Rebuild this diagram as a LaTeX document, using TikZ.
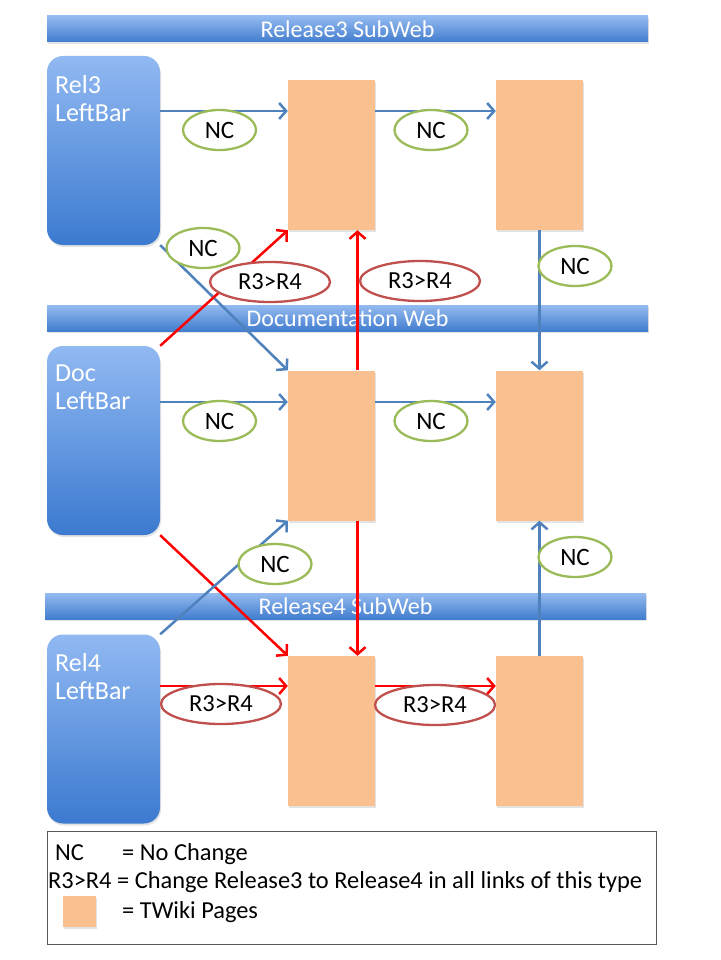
\documentclass[tikz,border=0pt]{standalone}
\usepackage{fontspec}
\setmainfont{Carlito}
\usetikzlibrary{shapes.geometric,arrows.meta,shadows}
\definecolor{bantop}{RGB}{148,186,240}
\definecolor{banbot}{RGB}{66,125,206}
\definecolor{bartop}{RGB}{145,185,242}
\definecolor{barbot}{RGB}{60,122,208}
\definecolor{pagefill}{RGB}{250,192,143}
\definecolor{linkblue}{RGB}{79,129,189}
\definecolor{ncgreen}{RGB}{155,187,89}
\definecolor{rellred}{RGB}{192,80,77}
\begin{document}
\begin{tikzpicture}[x=1pt,y=-1pt,
  txt/.style={font=\fontsize{24}{28}\selectfont},
  softshadow/.style={drop shadow={opacity=0.22, shadow xshift=1pt, shadow yshift=-2pt}},
  banner/.style={txt, rectangle, inner sep=0pt, minimum width=601pt, minimum height=26pt, top color=bantop, bottom color=banbot, text=white, softshadow},
  leftbar/.style={rectangle, rounded corners=16pt, minimum width=113pt, minimum height=189pt, inner sep=0pt, top color=bartop, bottom color=barbot, softshadow},
  bartext/.style={font=\fontsize{26}{28}\selectfont, text=white, align=left, inner sep=0pt, anchor=north west},
  pagebox/.style={rectangle, fill=pagefill, inner sep=0pt, minimum width=87pt, minimum height=150pt, softshadow},
  ncell/.style={font=\fontsize{25}{28}\selectfont, ellipse, draw=ncgreen, line width=2.3pt, fill=white, inner sep=0pt, minimum width=73pt, minimum height=40pt},
  rell/.style={ncell, font=\fontsize{24.5}{28}\selectfont, draw=rellred, minimum width=120pt},
  blink/.style={draw=linkblue, line width=2.5pt, -{Straight Barb[length=7pt,width=16pt]}},
  rlink/.style={blink, draw=red},
  legtext/.style={font=\fontsize{24.4}{28}\selectfont, inner sep=0pt, anchor=base west},
  legbox/.style={draw=black!65, line width=1pt, inner sep=0pt, minimum width=609pt, minimum height=113pt}
]
\fill[white] (0,0) rectangle (720,960);
\useasboundingbox (0,0) rectangle (720,960);

% banners
\node[banner] (b1) at (347.5,29) {Release3 SubWeb};
\node[banner] (b2) at (347.5,318) {Documentation Web};
\node[banner] (b3) at (345.5,606) {Release4 SubWeb};

% left bars
\node[leftbar] (r3) at (103.5,150.5) {};
\node[leftbar] (doc) at (103.5,440.5) {};
\node[leftbar] (r4) at (103.5,729) {};
\node[bartext] (t3) at (55,75) {Rel3\\LeftBar};
\node[bartext] (td) at (55,365) {Doc\\LeftBar};
\node[bartext] (t4) at (55,653) {Rel4\\LeftBar};

% pages
\node[pagebox] (p11) at (331.5,155) {};
\node[pagebox] (p12) at (539.5,155) {};
\node[pagebox] (p21) at (331.5,445.5) {};
\node[pagebox] (p22) at (539.5,445.5) {};
\node[pagebox] (p31) at (331.5,731) {};
\node[pagebox] (p32) at (539.5,731) {};

% links
\path (r3.east) ++(0,-39.5) coordinate (h1);
\path (doc.east) ++(0,-38.5) coordinate (h2);
\path (r4.east) ++(0,-43) coordinate (h3);

\draw[blink] (h1) -- (h1 -| p11.west);
\draw[blink] (h1 -| p11.east) -- (h1 -| p12.west);
\draw[blink] (r3.south east) -- (p21.north west);
\draw[rlink] (doc.north east) -- (p11.south west);
\draw[rlink] ([xshift=26pt]p21.north) -- ([xshift=26pt]p11.south);
\draw[blink] (p12.south) -- (p22.north);
\draw[blink] (h2) -- (h2 -| p21.west);
\draw[blink] (h2 -| p21.east) -- (h2 -| p22.west);
\draw[rlink] (doc.south east) -- (p31.north west);
\draw[blink] (r4.north east) -- (p21.south west);
\draw[rlink] ([xshift=26pt]p21.south) -- ([xshift=26pt]p31.north);
\draw[blink] (p32.north) -- (p22.south);
\draw[rlink] (h3) -- (h3 -| p31.west);
\draw[rlink] (h3 -| p31.east) -- (h3 -| p32.west);

% link labels
\node[ncell] (nc1) at (219.5,130) {NC};
\node[ncell] (nc2) at (431,130) {NC};
\node[ncell] (nc3) at (203,248) {NC};
\node[rell] (ra) at (270,282) {R3>R4};
\node[rell] (rb) at (420,281) {R3>R4};
\node[ncell] (nc4) at (575,266) {NC};
\node[ncell] (nc5) at (219.5,421) {NC};
\node[ncell] (nc6) at (431,421) {NC};
\node[ncell] (nc7) at (275,564) {NC};
\node[ncell] (nc8) at (575,557) {NC};
\node[rell] (rc) at (221,704) {R3>R4};
\node[rell] (rd) at (435,705) {R3>R4};

% legend
\node[legbox] (leg) at (351.5,887.5) {};
\node[legtext] (l1a) at (55,860) {NC};
\node[legtext] (l1b) at (122,860) {= No Change};
\node[legtext] (l2) at (48,888) {R3>R4 = Change Release3 to Release4 in all links of this type};
\node[pagebox, minimum width=33pt, minimum height=31pt] (lsq) at (79.5,911.5) {};
\node[legtext] (l3) at (122,918) {= TWiki Pages};
\end{tikzpicture}
\end{document}
